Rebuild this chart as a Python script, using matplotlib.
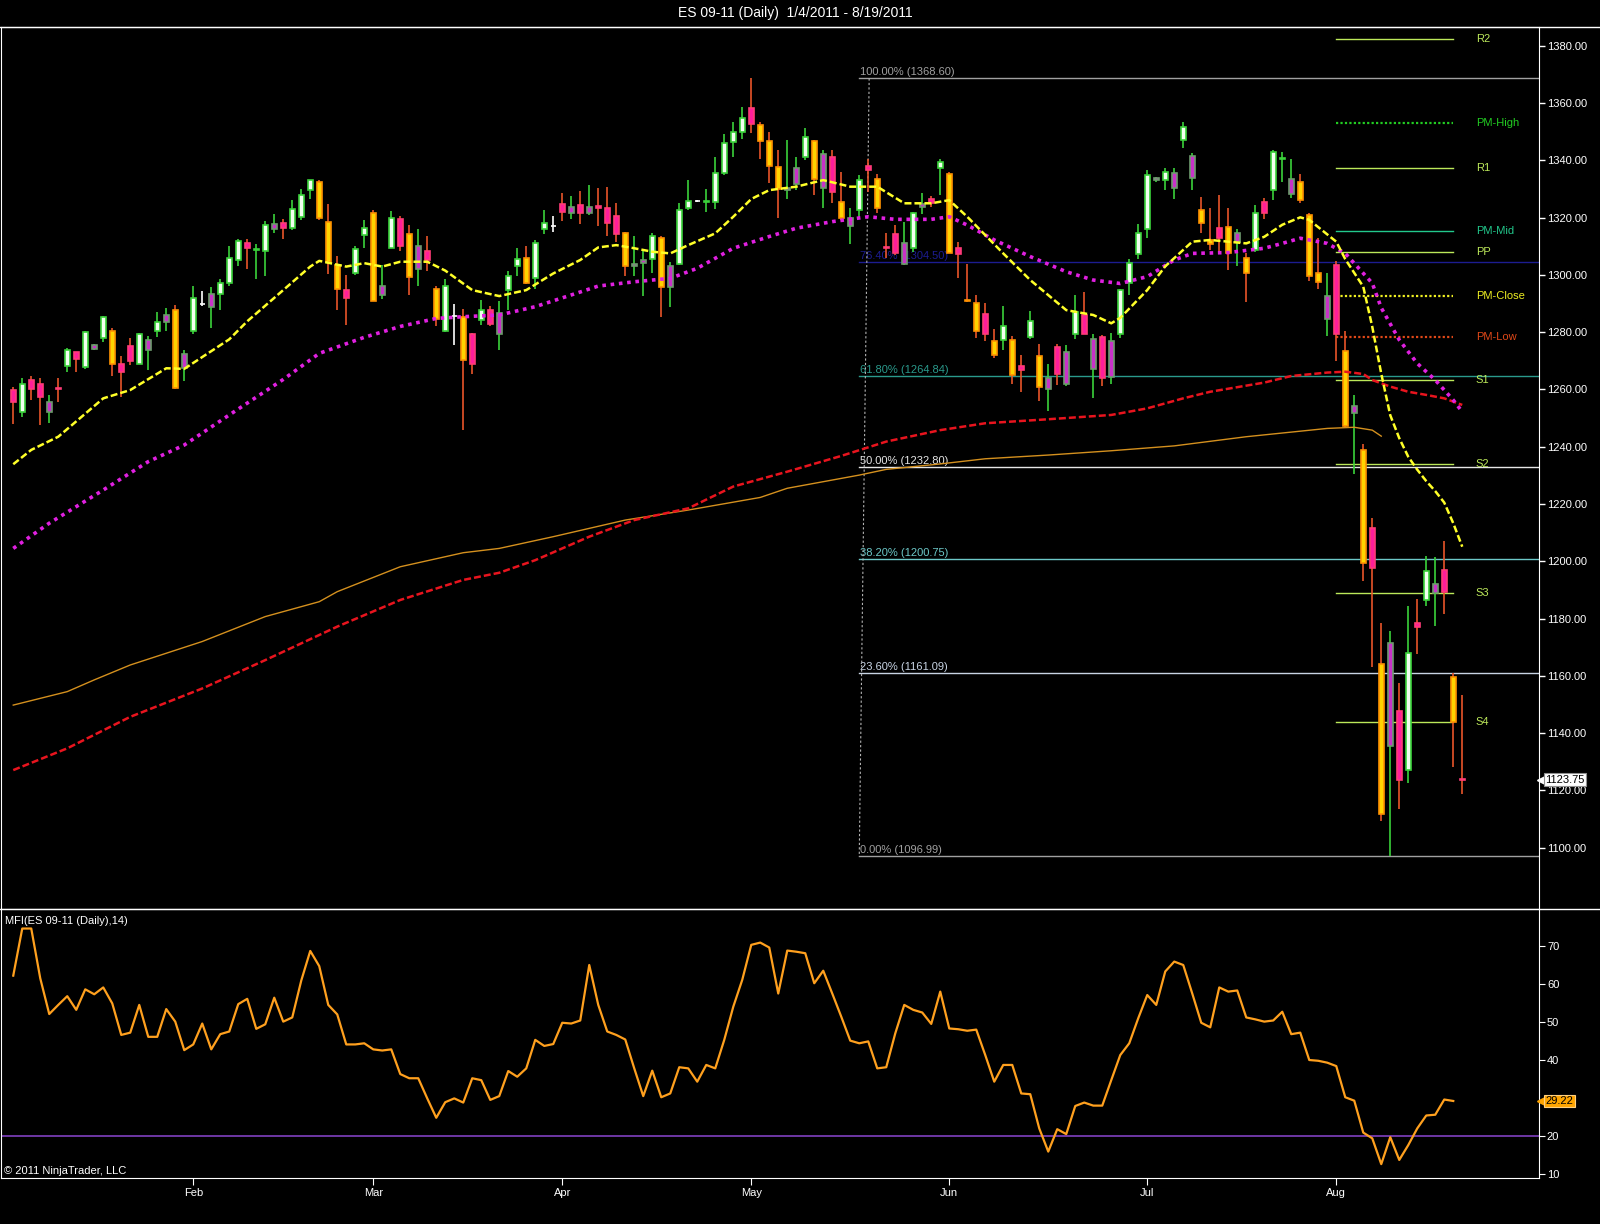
import matplotlib.pyplot as plt
from matplotlib.lines import Line2D
from matplotlib.transforms import blended_transform_factory

plt.rcParams['font.family'] = ['Liberation Sans', 'DejaVu Sans']

# Daily bars (bar 0 = 1/4/2011, bar 161 = 8/19/2011)
opens = [
    1259.75, 1252, 1263.25, 1262, 1252.25, 1260.5, 1268.25, 1273, 1268, 1274.25,
    1278, 1280.5, 1269, 1275.25, 1269, 1273.75, 1280.5, 1283.5, 1287.75, 1267.5,
    1280.5, 1290, 1288.75, 1293.25, 1297.25, 1305.25, 1311.25, 1308.75, 1308.5, 1316,
    1318, 1316.25, 1320.25, 1329.75, 1332.5, 1318.5, 1303.5, 1294.75, 1300.5, 1314,
    1321.5, 1293, 1309.5, 1319.5, 1314.25, 1302, 1308.5, 1295.25, 1280.5, 1285.5,
    1285.25, 1279.5, 1284.25, 1287.75, 1279.5, 1294.75, 1303, 1306, 1299, 1316,
    1317, 1324.75, 1321.75, 1324.5, 1321.75, 1324, 1323.25, 1320.5, 1314.75, 1303,
    1304, 1305.5, 1313, 1295.75, 1303.75, 1323.25, 1325.75, 1325.5, 1325.5, 1335.75,
    1346.25, 1349.75, 1358.25, 1352.5, 1346.75, 1337.75, 1329.5, 1331.75, 1341.25, 1346.75,
    1330.5, 1341.25, 1325.5, 1317, 1322.75, 1338, 1333.5, 1309.75, 1314.25, 1303.75,
    1309.5, 1323.75, 1326.5, 1337.25, 1335.25, 1309.25, 1291.25, 1290.25, 1286.25, 1277,
    1277.25, 1277.25, 1268.25, 1278.25, 1271.75, 1260, 1274.75, 1262, 1279.5, 1286,
    1267, 1278.25, 1264.5, 1279.5, 1297.25, 1307.25, 1316, 1333, 1333, 1330.25,
    1347, 1333.75, 1322.75, 1312.25, 1316.5, 1316.75, 1311.5, 1306, 1308.75, 1325.5,
    1329.5, 1340.5, 1328.25, 1332.5, 1321, 1300.75, 1284.5, 1303.5, 1273.5, 1251.75,
    1239, 1211.75, 1164, 1135.5, 1147.75, 1127, 1178.5, 1186.5, 1189, 1197,
    1159.5, 1124,
]
highs = [
    1261, 1264, 1264.75, 1264, 1258, 1264, 1274.5, 1273.25, 1280.25, 1276,
    1285.5, 1281.5, 1271.75, 1278, 1279.75, 1278.5, 1287, 1288.5, 1289.5, 1273.75,
    1296, 1294.5, 1295.75, 1298.5, 1310, 1312.5, 1312.5, 1310.75, 1318.75, 1321.25,
    1319.5, 1326.25, 1330, 1333.25, 1333, 1324.75, 1306.5, 1300, 1310, 1319.25,
    1322.5, 1303.5, 1322.25, 1320.5, 1317.5, 1316, 1313.5, 1296, 1298.5, 1290,
    1288, 1279.75, 1291.25, 1289.25, 1291, 1301.5, 1309.25, 1310, 1312.25, 1322.75,
    1320.5, 1328.5, 1327.5, 1329.25, 1331.25, 1330.25, 1330.75, 1325, 1315, 1313.5,
    1308.75, 1314.5, 1313.5, 1304.5, 1325.25, 1333, 1326, 1330, 1341, 1349.25,
    1353.5, 1358.75, 1368.6, 1353.5, 1350, 1343.5, 1347, 1341, 1351.25, 1347,
    1343.5, 1343.5, 1336, 1323.5, 1335, 1340.5, 1335.25, 1314.5, 1317.5, 1318.5,
    1322, 1328.5, 1327.5, 1340.5, 1336, 1311.5, 1303.75, 1293, 1290.25, 1281.25,
    1289, 1278.75, 1272, 1287.25, 1276, 1269, 1276, 1275.5, 1293, 1294,
    1279.5, 1279, 1279.75, 1295, 1305.5, 1317.75, 1336.5, 1334.25, 1337.25, 1337.25,
    1353.25, 1342.5, 1327.25, 1323.25, 1328, 1323.25, 1316, 1307.75, 1324.5, 1326.75,
    1343.5, 1342.75, 1340.5, 1335.25, 1321.5, 1313, 1300.75, 1305, 1280.25, 1258,
    1241, 1215.25, 1178.5, 1175.75, 1157.5, 1184.25, 1187, 1202, 1201.5, 1207,
    1161, 1153.25,
]
lows = [
    1248, 1250.5, 1256.25, 1247.5, 1248.25, 1255.5, 1266, 1266.25, 1267, 1273.75,
    1276.5, 1264.75, 1257.5, 1268.5, 1268.75, 1266.75, 1278.25, 1280.5, 1260, 1263,
    1279.5, 1289.25, 1281.5, 1287.75, 1296, 1303, 1302, 1298.5, 1299.5, 1314.5,
    1312.5, 1315.75, 1319, 1326.5, 1319.25, 1300.25, 1287.75, 1282.5, 1300, 1309.25,
    1290.75, 1291.5, 1309.25, 1308.5, 1293, 1296, 1301.5, 1282, 1280, 1275.5,
    1245.75, 1265.5, 1282.5, 1282.25, 1273.75, 1287.75, 1299.5, 1296.75, 1295, 1314.25,
    1315, 1318.75, 1319.5, 1317.75, 1321, 1317, 1313.5, 1311.5, 1299.5, 1299.5,
    1292.5, 1300.5, 1285.25, 1288.75, 1303.5, 1322.75, 1325.5, 1322, 1323, 1335,
    1341.25, 1347.5, 1349.5, 1340.5, 1332.25, 1320, 1326.5, 1329.5, 1340, 1328,
    1323.5, 1325.25, 1319.25, 1310.75, 1319.75, 1329, 1321.75, 1305.75, 1307, 1303.5,
    1308, 1321.25, 1323.75, 1328, 1307.5, 1299, 1290.5, 1278, 1277, 1271,
    1273.75, 1262, 1259.25, 1277.5, 1256, 1252.5, 1261.5, 1261.25, 1277.5, 1279.25,
    1257, 1261.25, 1262, 1278, 1293, 1305.5, 1313, 1332.5, 1329.5, 1326.5,
    1344.25, 1329.5, 1314.75, 1308.75, 1307.75, 1301.75, 1303, 1290.5, 1308, 1319.5,
    1326.25, 1332.5, 1326.75, 1325.25, 1298, 1295.25, 1278.5, 1270, 1246.75, 1230.5,
    1193.25, 1163.25, 1109.5, 1096.99, 1113.5, 1122.75, 1167.75, 1184.5, 1177.5, 1181.5,
    1128.25, 1118.75,
]
closes = [
    1255.5, 1262, 1260, 1257.25, 1255.5, 1260.25, 1273.75, 1270.5, 1280, 1275.5,
    1285.25, 1269, 1266.25, 1270, 1279.25, 1277.25, 1283.5, 1286, 1260.5, 1272.5,
    1292, 1290, 1293.25, 1297.25, 1305.75, 1312, 1309.25, 1309, 1317.5, 1317.75,
    1316.25, 1323, 1327.75, 1333, 1320, 1304.5, 1295.25, 1292, 1309, 1316.5,
    1291, 1296, 1319.75, 1310, 1299.25, 1310.25, 1305.25, 1284.5, 1296.25, 1285.5,
    1270.25, 1269, 1287.75, 1283, 1286.75, 1299.75, 1305.5, 1297, 1311, 1318.25,
    1317, 1322, 1323.75, 1321.75, 1323.75, 1323.25, 1318.25, 1314.25, 1303, 1303.75,
    1305.25, 1313.5, 1295.75, 1303.25, 1322.75, 1325.75, 1325.75, 1325.75, 1335.75, 1346,
    1349.75, 1354.75, 1352.75, 1346.75, 1338, 1330, 1330.25, 1337.25, 1348.25, 1333.5,
    1342.25, 1329, 1320, 1320, 1333.25, 1336.5, 1323.25, 1309.5, 1307.75, 1311.25,
    1321.5, 1324.75, 1325.25, 1339.25, 1307.75, 1307.25, 1291, 1280.25, 1279.5, 1272,
    1282.25, 1265, 1266.75, 1284, 1261, 1264, 1265.5, 1273.25, 1287, 1279.5,
    1277.5, 1264, 1276.75, 1294.75, 1304.25, 1314.75, 1334.75, 1333.75, 1336, 1335.75,
    1351.75, 1341.5, 1318.25, 1310.75, 1312.75, 1307.5, 1314.5, 1300.5, 1321.5, 1321.5,
    1342.75, 1340.75, 1333.5, 1326.25, 1299.5, 1297.5, 1292.5, 1279.5, 1247.25, 1254.25,
    1199.5, 1197.5, 1111.75, 1171.5, 1123.5, 1168, 1177, 1196.5, 1192, 1189.25,
    1144, 1123.75,
]
# candle colour class used by the chart: W/G up bars, O/M down bars, N unchanged
kinds = (
    "MWMMGMWMWG"
    "WOMMWGWGOG"
    "WNGWWWMWWG"
    "MWWWOOOMWW"
    "OGWMOGMOWN"
    "OMWMGWWOWW"
    "NMGMGMMMOG"
    "GWOGWWNWWW"
    "WWMOOOGGWO"
    "GMOGWMOMMG"
    "WGMWOMOOMO"
    "WOMWOGMGWM"
    "GMGWWWWGWG"
    "WGOOMOGOWM"
    "WWGOOOGMOG"
    "OMOGMWMWGM"
    "OM"
)

# moving averages, read at a set of bars
ma_fast_bars = [0, 2, 5, 10, 13, 17, 19, 24, 26, 30, 33, 34, 37, 39, 41, 43, 46, 48, 51,
                54, 57, 60, 63, 65, 67, 69, 71, 73, 75, 78, 80, 82, 84, 87, 90, 93, 96,
                99, 102, 104, 106, 110, 113, 117, 120, 122, 123, 126, 128, 131, 133, 135,
                137, 139, 141, 143, 144, 147, 148, 150, 151, 152, 153, 154, 155, 156,
                157, 158, 159, 160, 161]
ma_fast_vals = [1233.9, 1238.9, 1243.5, 1256.9, 1259.8, 1267.4, 1267.2, 1277.5, 1283.8,
                1294.7, 1302.9, 1304.9, 1302.9, 1304.1, 1302.9, 1304.6, 1304.6, 1301.5,
                1294.7, 1292.6, 1294.7, 1300.5, 1305.2, 1309.6, 1310.4, 1309.3, 1308.1,
                1307.5, 1310.4, 1314.5, 1320.3, 1326.5, 1329.6, 1330.8, 1333.1, 1330.8,
                1330.8, 1325.0, 1325.0, 1326.1, 1320.3, 1307.5, 1298.2, 1287.7, 1286.0,
                1283.1, 1285.0, 1294.7, 1303.0, 1311.6, 1312.2, 1311.6, 1311.0, 1313.3,
                1317.5, 1320.1, 1319.2, 1311.6, 1305.5, 1295.9, 1281.9, 1265.5, 1251.0,
                1243.0, 1236.5, 1232.0, 1228.0, 1224.5, 1220.5, 1213.3, 1205.1]

ma_mid_bars = [0, 4, 10, 15, 19, 24, 30, 34, 39, 43, 47, 50, 54, 58, 62, 65, 69, 73, 76,
               80, 84, 87, 91, 95, 98, 102, 104, 106, 109, 113, 117, 120, 123, 126, 129,
               131, 135, 139, 141, 143, 146, 148, 151, 152, 154, 156, 158, 160, 161]
ma_mid_vals = [1204.5, 1213.3, 1224.9, 1234.8, 1240.6, 1251.1, 1263.5, 1272.6, 1278.2,
               1282.0, 1284.8, 1285.4, 1286.0, 1288.9, 1293.0, 1296.1, 1297.6, 1298.8,
               1302.3, 1309.3, 1313.4, 1316.3, 1318.6, 1320.3, 1319.4, 1319.4, 1320.3,
               1317.4, 1312.2, 1306.4, 1301.1, 1298.2, 1297.0, 1299.4, 1305.2, 1307.5,
               1307.8, 1309.3, 1311.0, 1312.8, 1311.0, 1307.5, 1297.1, 1288.5, 1277.3,
               1269.1, 1263.3, 1256.3, 1252.2]

ma_slow_bars = [0, 6, 13, 21, 28, 36, 43, 50, 54, 58, 64, 69, 75, 80, 86, 92, 97, 103,
                108, 115, 122, 126, 130, 133, 139, 142, 146, 148, 150, 151, 153, 155,
                157, 159, 161]
ma_slow_vals = [1127.1, 1134.7, 1145.7, 1155.6, 1165.5, 1177.2, 1186.5, 1193.5, 1196.0,
                1200.4, 1208.6, 1214.4, 1218.5, 1226.1, 1231.3, 1236.8, 1241.8, 1245.8,
                1248.2, 1249.6, 1251.1, 1253.4, 1256.9, 1259.2, 1262.4, 1264.7, 1265.9,
                1266.2, 1265.4, 1263.3, 1261.0, 1259.2, 1258.1, 1256.9, 1254.6]

ma_long_bars = [0, 6, 9, 13, 21, 28, 34, 36, 43, 50, 54, 60, 68, 75, 83, 86, 94, 97, 103,
                108, 115, 122, 129, 137, 146, 149, 151, 152]
ma_long_vals = [1149.8, 1154.5, 1158.6, 1163.8, 1172.0, 1180.7, 1185.9, 1189.4, 1198.1,
                1203.0, 1204.5, 1208.6, 1214.4, 1217.9, 1222.3, 1225.5, 1230.1, 1232.1,
                1234.0, 1235.8, 1237.1, 1238.6, 1240.3, 1243.5, 1246.4, 1246.8, 1245.8,
                1243.7]

# MFI(14), one value per closed bar
mfi = [
    62.2, 74.6, 74.6, 61.5, 52.1, 54.5, 56.8, 53.2, 58.6, 57.3,
    59.1, 54.9, 46.6, 47.2, 54.5, 46.1, 46.1, 53.4, 50.1, 42.6,
    44.1, 49.6, 42.8, 46.8, 47.5, 54.7, 56.1, 48.2, 49.4, 56.4,
    50.1, 51.2, 60.9, 68.7, 64.7, 54.5, 52.0, 44.1, 44.1, 44.4,
    42.8, 42.5, 42.8, 36.3, 35.2, 35.2, 29.9, 24.8, 28.9, 29.9,
    28.8, 35.2, 34.7, 29.5, 30.5, 37.1, 35.6, 37.8, 45.3, 43.7,
    44.2, 49.8, 49.6, 50.4, 65.0, 54.5, 47.5, 46.6, 45.4, 37.8,
    30.5, 37.2, 30.2, 31.2, 38.1, 37.8, 34.3, 38.7, 37.8, 45.3,
    54.0, 61.1, 70.3, 70.9, 69.6, 57.5, 68.8, 68.5, 68.1, 60.2,
    63.5, 57.5, 51.4, 45.1, 44.4, 44.9, 37.8, 38.1, 47.0, 54.5,
    53.2, 52.5, 49.5, 58.0, 48.3, 48.1, 47.7, 48.0, 41.3, 34.3,
    38.7, 38.7, 31.2, 31.0, 22.0, 15.9, 21.8, 20.5, 27.9, 28.8,
    28.0, 28.0, 34.7, 41.3, 44.4, 51.0, 57.1, 54.5, 63.3, 65.9,
    65.0, 57.5, 49.8, 48.6, 59.1, 58.0, 58.3, 51.2, 50.7, 50.1,
    50.4, 52.7, 46.8, 47.2, 40.0, 39.8, 39.3, 38.4, 30.2, 29.3,
    20.9, 19.4, 12.6, 19.7, 13.7, 17.6, 22.0, 25.4, 25.6, 29.6,
    29.22,
]
# the 30 label is hidden behind the MFI value tag on the original
mfi_ticks = [10, 20, 40, 50, 60, 70]

month_labels = ['Feb', 'Mar', 'Apr', 'May', 'Jun', 'Jul', 'Aug']
month_bars = [20, 40, 61, 82, 104, 126, 147]

fib_pct = ['100.00%', '76.40%', '61.80%', '50.00%', '38.20%', '23.60%', '0.00%']
fib_price = [1368.60, 1304.50, 1264.84, 1232.80, 1200.75, 1161.09, 1096.99]
fib_colors = ['#a0a0a0', '#1c1c90', '#2a9a8c', '#e6e6e6', '#6cc8c8', '#c8d4e4', '#a0a0a0']
fib_start, fib_top_bar = 94.0, 95.1

pivot_names = ['R2', 'PM-High', 'R1', 'PM-Mid', 'PP', 'PM-Close', 'PM-Low',
               'S1', 'S2', 'S3', 'S4']
pivot_price = [1382.25, 1352.9, 1337.2, 1315.4, 1307.9, 1292.5, 1278.4,
               1263.2, 1233.9, 1188.8, 1144.0]
pivot_colors = ['#bce85a', '#22cc22', '#bce85a', '#22c88c', '#bce85a', '#eeee22',
                '#e04818', '#bce85a', '#bce85a', '#bce85a', '#bce85a']
pivot_dotted = ['PM-High', 'PM-Close', 'PM-Low']
pivot_from, pivot_to = 147, 160

candle_style = {
    'W': dict(face='#f2fff0', edge='#3ad23a', wick='#3ad23a'),
    'G': dict(face='#c832c8', edge='#6e9a6e', wick='#3ad23a'),
    'M': dict(face='#ff1e9a', edge='#ff3c78', wick='#e8552a'),
    'O': dict(face='#ffd400', edge='#ff9200', wick='#e8552a'),
    'N': dict(face='#ffffff', edge='#ffffff', wick='#ffffff'),
}

fig = plt.figure(figsize=(16, 12.24), dpi=100, facecolor='black')
ax = fig.add_axes([0.0008, 0.25711, 0.96126, 0.72059], facecolor='black')
ax2 = fig.add_axes([0.0008, 0.03758, 0.96126, 0.21953], facecolor='black', sharex=ax)

bars = list(range(len(opens)))

# fibonacci retracement
for pct, price, col in zip(fib_pct, fib_price, fib_colors):
    ax.plot([fib_start, 175], [price, price], color=col, lw=1, zorder=1)
    ax.annotate(f'{pct} ({price:.2f})', xy=(fib_start, price), xytext=(1, 1),
                textcoords='offset pixels', ha='left', va='bottom',
                fontsize=8, color=col, zorder=1)
ax.plot([fib_top_bar, fib_start], [fib_price[0], fib_price[-1]], color='#b4b4b4',
        lw=0.8, ls=(0, (2, 2)), zorder=1)

# pivots
for name, price, col in zip(pivot_names, pivot_price, pivot_colors):
    ls = (0, (1, 1)) if name in pivot_dotted else '-'
    lw = 1.6 if name in pivot_dotted else 1
    ax.plot([pivot_from, pivot_to], [price, price], color=col, lw=lw, ls=ls, zorder=2)
    ax.text(162.5, price, name, color=col, fontsize=8, ha='left', va='center')

# candles
body_low = [min(o, c) for o, c in zip(opens, closes)]
body_h = [abs(c - o) for o, c in zip(opens, closes)]
ax.vlines(bars, lows, highs, colors=[candle_style[k]['wick'] for k in kinds],
          lw=1.2, zorder=3)
ax.bar(bars, body_h, bottom=body_low, width=0.5,
       color=[candle_style[k]['face'] for k in kinds],
       edgecolor=[candle_style[k]['edge'] for k in kinds], linewidth=1.2, zorder=4)

# moving averages
ax.plot(ma_long_bars, ma_long_vals, color='#d4901e', lw=1, zorder=5)
ax.plot(ma_slow_bars, ma_slow_vals, color='#e8141e', lw=1.8, ls=(0, (2.8, 1.2)), zorder=5)
ax.plot(ma_mid_bars, ma_mid_vals, color='#e020e0', lw=2.6, ls=(0, (1, 1.3)), zorder=5)
ax.plot(ma_fast_bars, ma_fast_vals, color='#ffff28', lw=1.8, ls=(0, (2.8, 1.2)), zorder=5)

ax.set_xlim(-1.33, 169.56)
ax.set_ylim(1078.5, 1386.45)
ax.yaxis.tick_right()
ax.set_yticks(range(1100, 1381, 20))
ax.set_yticklabels([f'{v:.2f}' for v in range(1100, 1381, 20)])
ax.tick_params(axis='y', colors='white', labelsize=8, length=4, pad=1.5, width=1)
ax.tick_params(axis='x', length=0, labelbottom=False)
for sp in ax.spines.values():
    sp.set_color('white')

# last price tag
trans = blended_transform_factory(ax.transAxes, ax.transData)
ax.plot([1.002], [closes[-1]], marker='<', ms=7, color='white', transform=trans,
        clip_on=False, zorder=10)
ax.annotate(f'{closes[-1]:.2f}', xy=(1, closes[-1]), xycoords=trans, xytext=(6, 0),
            textcoords='offset pixels', ha='left', va='center', fontsize=8, color='black',
            bbox=dict(boxstyle='square,pad=0.12', fc='white', ec='#909090', lw=0.8),
            zorder=11, annotation_clip=False)

# MFI panel
ax2.plot(bars[:len(mfi)], mfi, color='#ffa01e', lw=1.6, zorder=3)
ax2.axhline(20, color='#8040c0', lw=1.2, zorder=2)
ax2.set_ylim(8.95, 79.66)
ax2.yaxis.tick_right()
ax2.set_yticks(mfi_ticks)
ax2.tick_params(axis='y', colors='white', labelsize=8, length=4, pad=1.5)
ax2.set_xticks(month_bars)
ax2.set_xticklabels(month_labels)
ax2.tick_params(axis='x', colors='white', labelsize=8, length=5, pad=2)
for sp in ax2.spines.values():
    sp.set_color('white')

trans2 = blended_transform_factory(ax2.transAxes, ax2.transData)
ax2.plot([1.002], [mfi[-1]], marker='<', ms=7, color='#ffa500', transform=trans2,
         clip_on=False, zorder=10)
ax2.annotate(f'{mfi[-1]:.2f}', xy=(1, mfi[-1]), xycoords=trans2, xytext=(6, 0),
             textcoords='offset pixels', ha='left', va='center', fontsize=8, color='black',
             bbox=dict(boxstyle='square,pad=0.12', fc='#ffa500', ec='#ffd080', lw=0.8),
             zorder=11, annotation_clip=False)

ax2.annotate('MFI(ES 09-11 (Daily),14)', xy=(0, 1), xycoords='axes fraction',
             xytext=(4, -12), textcoords='offset pixels', ha='left', va='center',
             fontsize=8, color='white')
ax2.annotate('\u00a9 2011 NinjaTrader, LLC', xy=(0, 0), xycoords='axes fraction',
             xytext=(3, 2), textcoords='offset pixels', ha='left', va='bottom',
             fontsize=8, color='white')

# frame lines across the full width and the title
for yf in (0.97770, 0.25711):
    fig.add_artist(Line2D([0, 1], [yf, yf], transform=fig.transFigure,
                          color='white', lw=1))
fig.text(0.497, 0.9894, 'ES 09-11 (Daily)  1/4/2011 - 8/19/2011', color='white',
         fontsize=10, ha='center', va='center')

fig.savefig('out.png', dpi=100, facecolor='black')
